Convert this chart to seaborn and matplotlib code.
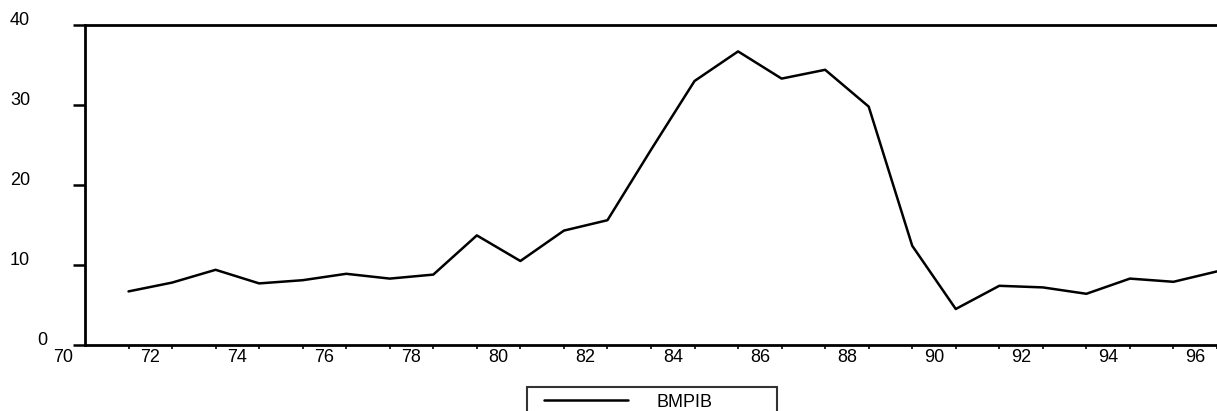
import numpy as np
import pandas as pd
import matplotlib
matplotlib.use('Agg')
import matplotlib.pyplot as plt
import matplotlib.transforms as mtransforms
from matplotlib.lines import Line2D
from matplotlib.legend_handler import HandlerLine2D
import seaborn as sns

# ── data (annual, plotted at mid-year) ───────────────────────────────────────
years = [71, 72, 73, 74, 75, 76, 77, 78, 79, 80, 81, 82, 83,
         84, 85, 86, 87, 88, 89, 90, 91, 92, 93, 94, 95, 96]
bmpib = [6.7, 7.8, 9.4, 7.7, 8.1, 8.9, 8.3, 8.8, 13.7, 10.5, 14.3, 15.6, 24.4,
         33.0, 36.7, 33.3, 34.4, 29.8, 12.4, 4.5, 7.4, 7.2, 6.4, 8.3, 7.9, 9.2]
x_labels = [70, 72, 74, 76, 78, 80, 82, 84, 86, 88, 90, 92, 94, 96]
y_ticks = [0, 10, 20, 30, 40]

df = pd.DataFrame({'t': np.array(years) + 0.5, 'BMPIB': bmpib})

# ── style ────────────────────────────────────────────────────────────────────
sns.set_style('white')
plt.rcParams['font.family'] = ['Liberation Sans', 'DejaVu Sans']
plt.rcParams['text.color'] = 'black'
plt.rcParams['xtick.color'] = 'black'
plt.rcParams['ytick.color'] = 'black'
FS = 13

fig = plt.figure(figsize=(12.17, 4.11), dpi=100)
ax = fig.add_axes([85 / 1217, 66 / 411, 1 - 85 / 1217, 320 / 411])

sns.lineplot(data=df, x='t', y='BMPIB', color='black', linewidth=1.8,
             ax=ax, label='BMPIB', legend=False)

ax.set_xlim(70.5, 96.5)
ax.set_ylim(0, 40)
ax.set_xlabel('')
ax.set_ylabel('')

# spines
for side in ['left', 'bottom', 'top']:
    ax.spines[side].set_linewidth(2.0)
    ax.spines[side].set_color('black')
ax.spines['right'].set_visible(False)

# y axis: outward ticks, labels drawn as text (EViews-like placement)
ax.set_yticks(y_ticks)
ax.set_yticklabels([])
ax.tick_params(axis='y', direction='out', length=9, width=1.8, left=True)
ytrans = mtransforms.blended_transform_factory(fig.transFigure, ax.transData)
for v in y_ticks:
    xr = 47 if v == 0 else 30
    ax.text(xr / 1217, v, str(v), transform=ytrans, ha='right', va='baseline',
            fontsize=FS, color='black', clip_on=False)

# x axis: ticks at each observation, labels on even years
ax.set_xticks(df['t'])
ax.set_xticklabels([])
ax.tick_params(axis='x', direction='out', length=3, width=1.2, bottom=True)
for yr in x_labels:
    ax.text(yr, -0.012, str(yr), transform=ax.get_xaxis_transform(),
            ha='center', va='top', fontsize=FS, color='black', clip_on=False)

# legend box below the plot
handles, labels = ax.get_legend_handles_labels()
leg = fig.legend(handles, labels, loc='upper left',
                 bbox_to_anchor=(527 / 1217, 24 / 411, 250 / 1217, 0.001),
                 mode='expand', borderaxespad=0, frameon=True, fancybox=False,
                 edgecolor='black', handlelength=5.2, handletextpad=1.6,
                 borderpad=0.4, fontsize=FS, labelcolor='black',
                 handler_map={Line2D: HandlerLine2D(xpad=0.55)})
leg.get_frame().set_linewidth(1.5)

fig.savefig('out.png', dpi=100)
